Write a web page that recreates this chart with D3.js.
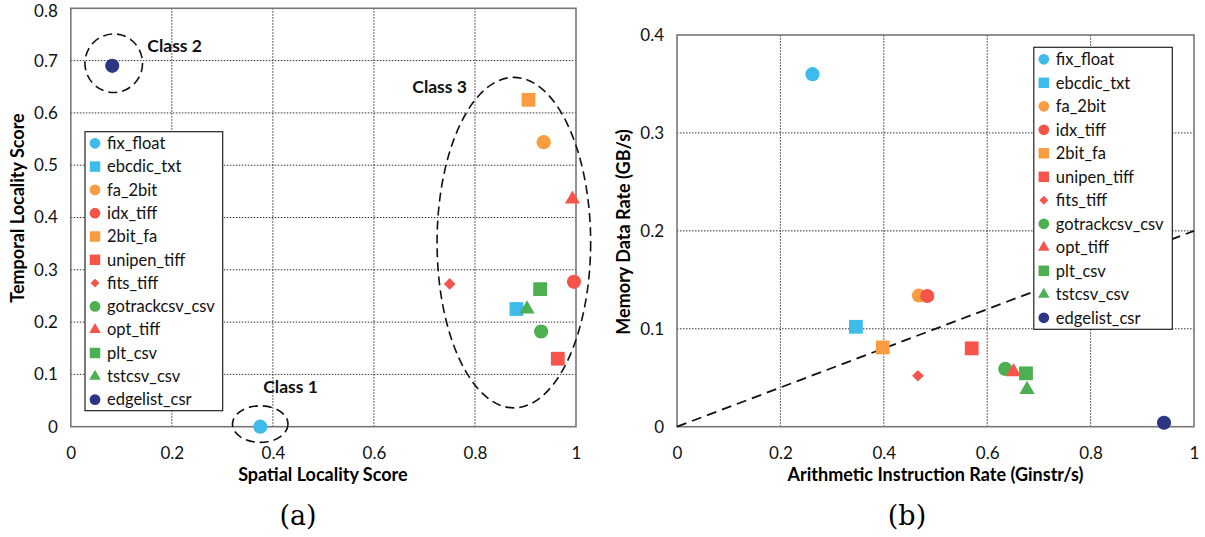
<!DOCTYPE html>
<html>
<head>
<meta charset="utf-8">
<script src="https://cdn.jsdelivr.net/npm/d3@7"></script>
<style>
  body { margin: 0; background: #fff; }
  svg text { font-family: Lato, "Open Sans", sans-serif; }
</style>
</head>
<body>
<script>
// données
const benchNames = ["fix_float", "ebcdic_txt", "fa_2bit", "idx_tiff", "2bit_fa", "unipen_tiff",
  "fits_tiff", "gotrackcsv_csv", "opt_tiff", "plt_csv", "tstcsv_csv", "edgelist_csr"];
const spatialScore = [0.375, 0.882, 0.936, 0.996, 0.906, 0.964, 0.75, 0.931, 0.993, 0.929, 0.903, 0.082];
const temporalScore = [0.0, 0.225, 0.544, 0.277, 0.625, 0.13, 0.273, 0.182, 0.435, 0.263, 0.225, 0.69];
const arithRate = [0.262, 0.346, 0.468, 0.484, 0.398, 0.57, 0.466, 0.635, 0.651, 0.675, 0.677, 0.942];
const memRate = [0.36, 0.102, 0.134, 0.1335, 0.081, 0.08, 0.052, 0.059, 0.056, 0.0545, 0.038, 0.004];

const xTicksA = [0, 0.2, 0.4, 0.6, 0.8, 1];
const yTicksA = [0, 0.1, 0.2, 0.3, 0.4, 0.5, 0.6, 0.7, 0.8];
const xTicksB = [0, 0.2, 0.4, 0.6, 0.8, 1];
const yTicksB = [0, 0.1, 0.2, 0.3, 0.4];

// classes (centre x, centre y, rayon x, rayon y) en unités des données
const classNames = ["Class 1", "Class 2", "Class 3"];
const classEllipse = [[0.375, 0.005, 0.055, 0.035], [0.085, 0.695, 0.057, 0.056], [0.877, 0.352, 0.152, 0.316]];
const classLabelPos = [[0.381, 0.064], [0.1515, 0.717], [0.676, 0.639]];

// ligne pointillée de (b)
const refLine = [[0, 0], [1, 0.2]];

// styles
const blue = "#3dbbea", orange = "#fa9c40", red = "#f6544b", green = "#4caf50", navy = "#2c3683";
const benchColor = [blue, blue, orange, red, orange, red, red, green, red, green, green, navy];
const benchShape = ["circle", "square", "circle", "circle", "square", "square",
  "diamond", "circle", "triangle", "square", "triangle", "circle"];

const width = 1205, height = 537;
const svg = d3.select("body").append("svg")
  .attr("width", width)
  .attr("height", height);

function symbolPath(shape, big) {
  var k = big ? 1 : 0.76;
  if (shape == "circle") return d3.symbol(d3.symbolCircle, 158 * k * k)();
  if (shape == "square") return d3.symbol(d3.symbolSquare, 190 * k * k)();
  if (shape == "triangle") return d3.symbol(d3.symbolTriangle, 100 * k * k)();
  return d3.symbol(d3.symbolSquare, 68 * k * k)();
}
function symbolRot(shape) { return shape == "diamond" ? " rotate(45)" : ""; }

function panel(opt) {
  var xscale = d3.scaleLinear().domain([0, 1]).range(opt.xr);
  var yscale = d3.scaleLinear().domain([0, opt.ymax]).range(opt.yr);
  var g = svg.append("g");

  // grille
  g.append("g").selectAll("line").data(opt.xt.slice(1, -1)).enter().append("line")
    .attr("x1", d => xscale(d)).attr("x2", d => xscale(d))
    .attr("y1", opt.yr[0]).attr("y2", opt.yr[1])
    .attr("stroke", "#333").attr("stroke-width", 1).attr("stroke-dasharray", "1.5,1.5");
  g.append("g").selectAll("line").data(opt.yt.slice(1, -1)).enter().append("line")
    .attr("y1", d => yscale(d)).attr("y2", d => yscale(d))
    .attr("x1", opt.xr[0]).attr("x2", opt.xr[1])
    .attr("stroke", "#333").attr("stroke-width", 1).attr("stroke-dasharray", "1.5,1.5");

  g.append("rect")
    .attr("x", opt.xr[0]).attr("y", opt.yr[1])
    .attr("width", opt.xr[1] - opt.xr[0]).attr("height", opt.yr[0] - opt.yr[1])
    .attr("fill", "none").attr("stroke", "#777").attr("stroke-width", 1.6);

  // axes
  var fmt = d3.format("~g");
  var xa = g.append("g").attr("transform", "translate(0," + opt.yr[0] + ")")
    .call(d3.axisBottom(xscale).tickValues(opt.xt).tickFormat(fmt).tickSize(0).tickPadding(20));
  var ya = g.append("g").attr("transform", "translate(" + opt.xr[0] + ",0)")
    .call(d3.axisLeft(yscale).tickValues(opt.yt).tickFormat(fmt).tickSize(0).tickPadding(13));
  [xa, ya].forEach(function (a) {
    a.select(".domain").remove();
    a.selectAll("text").attr("font-family", "Lato, sans-serif").attr("font-size", 17).attr("fill", "#111");
  });
  // le libellé du haut reste dans la page
  ya.selectAll(".tick text").filter(d => yscale(d) < 12).attr("dy", "0.5em");

  // titres des axes
  g.append("text")
    .attr("x", (opt.xr[0] + opt.xr[1]) / 2 + opt.xtOff).attr("y", 481)
    .attr("text-anchor", "middle").attr("font-weight", "bold").attr("font-size", 18)
    .text(opt.xlabel);
  g.append("text")
    .attr("transform", "translate(" + opt.ylx + "," + opt.yly + ") rotate(-90)")
    .attr("text-anchor", "middle").attr("font-weight", "bold").attr("font-size", 18)
    .text(opt.ylabel);

  // légende de sous-figure
  g.append("text")
    .attr("x", opt.capX).attr("y", 525)
    .attr("text-anchor", "middle").attr("font-size", 27)
    .style("font-family", "'DejaVu Serif', serif")
    .text(opt.caption);

  return { g: g, x: xscale, y: yscale };
}

function drawPoints(p, xs, ys) {
  p.g.append("g").selectAll("path").data(benchNames).enter().append("path")
    .attr("d", (d, i) => symbolPath(benchShape[i], true))
    .attr("transform", (d, i) => "translate(" + p.x(xs[i]) + "," + p.y(ys[i]) + ")" + symbolRot(benchShape[i]))
    .attr("fill", (d, i) => benchColor[i]);
}

function drawLegend(g, x0, y0, w, h, first, step) {
  var lg = g.append("g");
  lg.append("rect").attr("x", x0).attr("y", y0).attr("width", w).attr("height", h)
    .attr("fill", "white").attr("stroke", "#222").attr("stroke-width", 1.2);
  var row = lg.selectAll("g.row").data(benchNames).enter().append("g")
    .attr("transform", (d, i) => "translate(" + (x0 + 10) + "," + (first + i * step) + ")");
  row.append("path")
    .attr("d", (d, i) => symbolPath(benchShape[i], false))
    .attr("transform", (d, i) => "translate(0,0)" + symbolRot(benchShape[i]))
    .attr("fill", (d, i) => benchColor[i]);
  row.append("text").attr("x", 12).attr("dy", "0.35em")
    .attr("font-size", 16.5).attr("fill", "#111")
    .text(d => d);
}

// (a)
var pa = panel({
  xr: [70.8, 576], yr: [426.7, 8.3], ymax: 0.8, xt: xTicksA, yt: yTicksA,
  xlabel: "Spatial Locality Score", ylabel: "Temporal Locality Score",
  xtOff: -0.5, ylx: 24, yly: 208, caption: "(a)", capX: 298
});

pa.g.append("g").selectAll("ellipse").data(classEllipse).enter().append("ellipse")
  .attr("cx", d => pa.x(d[0])).attr("cy", d => pa.y(d[1]))
  .attr("rx", d => pa.x(d[2]) - pa.x(0)).attr("ry", d => pa.y(0) - pa.y(d[3]))
  .attr("fill", "none").attr("stroke", "#111").attr("stroke-width", 1.6)
  .attr("stroke-dasharray", "9,5");
pa.g.append("g").selectAll("text").data(classNames).enter().append("text")
  .attr("x", (d, i) => pa.x(classLabelPos[i][0])).attr("y", (d, i) => pa.y(classLabelPos[i][1]))
  .attr("font-weight", "bold").attr("font-size", 17.5).attr("fill", "#111")
  .text(d => d);

drawLegend(pa.g, 85, 131.7, 137.7, 279, 143.3, 23.3);
drawPoints(pa, spatialScore, temporalScore);

// (b)
var pb = panel({
  xr: [677, 1194], yr: [426.7, 35], ymax: 0.4, xt: xTicksB, yt: yTicksB,
  xlabel: "Arithmetic Instruction Rate (Ginstr/s)", ylabel: "Memory Data Rate (GB/s)",
  xtOff: 0, ylx: 630, yly: 232, caption: "(b)", capX: 907
});

pb.g.append("path")
  .attr("d", d3.line().x(d => pb.x(d[0])).y(d => pb.y(d[1]))(refLine))
  .attr("fill", "none").attr("stroke", "#111").attr("stroke-width", 1.8)
  .attr("stroke-dasharray", "10,6");

drawLegend(pb.g, 1033.8, 47.3, 138.5, 282, 59.3, 23.5);
drawPoints(pb, arithRate, memRate);
</script>
</body>
</html>
